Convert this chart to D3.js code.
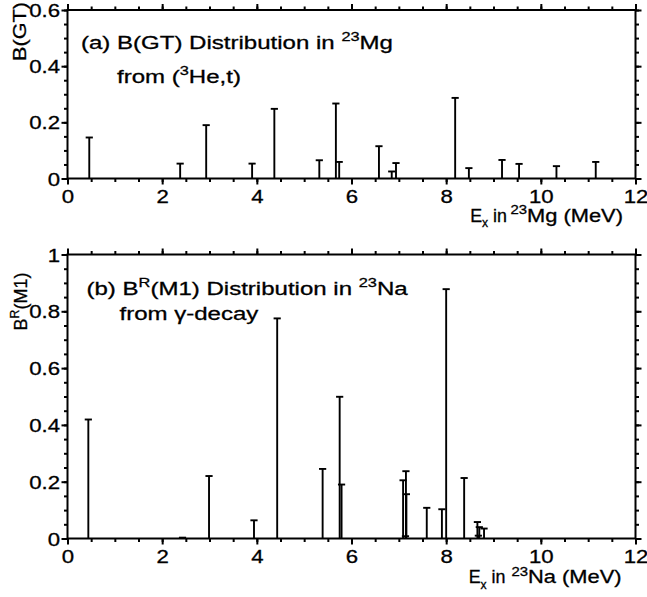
<!DOCTYPE html>
<html>
<head>
<meta charset="utf-8">
<script src="https://cdn.jsdelivr.net/npm/d3@7"></script>
<style>
  body { margin: 0; background: #fff; }
  text { font-family: "Liberation Sans", Arial, Helvetica, sans-serif; fill: #000; stroke: #000; stroke-width: 0.3px; }
</style>
</head>
<body>
<svg id="chart" width="647" height="597"></svg>
<script>
// (a) Gamow-Teller strengths in 23Mg from (3He,t): excitation energy (MeV) and B(GT)
const mgEnergy = [0.46, 2.38, 2.93, 3.90, 4.37, 5.32, 5.67, 5.74, 6.58, 6.85, 6.94, 8.19, 8.48, 9.18, 9.54, 10.33, 11.16];
const mgBGT    = [0.146, 0.053, 0.190, 0.053, 0.248, 0.065, 0.267, 0.059, 0.115, 0.025, 0.055, 0.287, 0.037, 0.066, 0.052, 0.044, 0.059];

// (b) Reduced M1 strengths in 23Na from gamma decay: excitation energy (MeV) and B^R(M1)
const naEnergy = [0.44, 2.43, 2.99, 3.94, 4.43, 5.39, 5.75, 5.79, 7.09, 7.14, 7.15, 7.16, 7.59, 7.91, 8.00, 8.38, 8.66, 8.68, 8.70, 8.80];
const naBM1    = [0.419, 0.003, 0.220, 0.064, 0.775, 0.245, 0.499, 0.190, 0.205, 0.008, 0.237, 0.156, 0.108, 0.103, 0.878, 0.213, 0.058, 0.010, 0.040, 0.035];

// Axis ticks
const xMajor = [0, 2, 4, 6, 8, 10, 12];
const xMinor = d3.range(0, 12.001, 0.5);
const gtMajor = [0, 0.2, 0.4, 0.6];
const gtLabels = ["0", "0.2", "0.4", "0.6"];
const m1Major = [0, 0.2, 0.4, 0.6, 0.8, 1];
const m1Labels = ["0", "0.2", "0.4", "0.6", "0.8", "1"];
const yMinorStep = 0.05;

const svg = d3.select("#chart");
const FONT = "\"Liberation Sans\", Arial, Helvetica, sans-serif";
const tickSize = 18.5;   // tick label font size
const tickSX = 1.2;      // glyph widening for tick labels
const LEFT = 67.5, RIGHT = 635.5;

const x = d3.scaleLinear().domain([0, 12]).range([LEFT, RIGHT]);

// Text with optional super/subscript runs; parts = [[text, kind], ...]
function richText(parent, px, py, parts, size, sx, anchor, rotate) {
  const tr = `translate(${px},${py})` + (rotate ? ` rotate(${rotate})` : "") + ` scale(${sx},1)`;
  const t = parent.append("text")
    .attr("transform", tr)
    .attr("font-size", size)
    .attr("text-anchor", anchor || "start");
  let shift = 0;
  parts.forEach(p => {
    const kind = p[1] || "n";
    const target = kind === "sup" ? -0.42 * size : kind === "sub" ? 0.32 * size : 0;
    t.append("tspan")
      .attr("dy", target - shift)
      .attr("font-size", kind === "n" ? size : size * 0.68)
      .text(p[0]);
    shift = target;
  });
  return t;
}

// Energy axis title, set in two runs so the unit part can be widened
function energyTitle(parent, baseline, endX, nucleus) {
  richText(parent, endX - 116, baseline, [["E"], ["x", "sub"], [" in"]], 17.5, 1.02, "end");
  richText(parent, endX, baseline, [["23", "sup"], [nucleus + " (MeV)"]], 17.5, 1.25, "end");
}

function panel(opts) {
  const { top, bottom, yMax, majors, labels, energies, values } = opts;
  const y = d3.scaleLinear().domain([0, yMax]).range([bottom, top]);
  const g = svg.append("g");
  const yMinor = d3.range(0, yMax + 1e-9, yMinorStep);

  const styleAxis = sel => {
    sel.select(".domain").remove();
    sel.selectAll(".tick line").attr("stroke", "#000").attr("stroke-width", 2);
  };

  // minor ticks on all four sides
  g.append("g").attr("transform", `translate(0,${bottom})`)
    .call(d3.axisBottom(x).tickValues(xMinor).tickSize(3.5).tickFormat(""))
    .call(styleAxis);
  g.append("g").attr("transform", `translate(0,${top})`)
    .call(d3.axisTop(x).tickValues(xMinor).tickSize(3.5).tickFormat(""))
    .call(styleAxis);
  g.append("g").attr("transform", `translate(${LEFT},0)`)
    .call(d3.axisLeft(y).tickValues(yMinor).tickSize(3.5).tickFormat(""))
    .call(styleAxis);
  g.append("g").attr("transform", `translate(${RIGHT},0)`)
    .call(d3.axisRight(y).tickValues(yMinor).tickSize(3.5).tickFormat(""))
    .call(styleAxis);

  // major ticks with labels
  const xb = g.append("g").attr("transform", `translate(0,${bottom})`)
    .call(d3.axisBottom(x).tickValues(xMajor).tickSize(6).tickPadding(5).tickFormat(d3.format("d")))
    .call(styleAxis);
  xb.selectAll("text")
    .attr("font-family", FONT).attr("font-size", tickSize).attr("fill", "#000")
    .attr("transform", `scale(${tickSX},1)`);
  g.append("g").attr("transform", `translate(0,${top})`)
    .call(d3.axisTop(x).tickValues(xMajor).tickSize(6).tickFormat(""))
    .call(styleAxis);
  const yl = g.append("g").attr("transform", `translate(${LEFT},0)`)
    .call(d3.axisLeft(y).tickValues(majors).tickSize(6).tickPadding(1.5).tickFormat((d, i) => labels[i]))
    .call(styleAxis);
  yl.selectAll("text")
    .attr("font-family", FONT).attr("font-size", tickSize).attr("fill", "#000")
    .attr("x", -7.5 / tickSX)
    .attr("dy", "0.36em")
    .attr("transform", `scale(${tickSX},1)`);
  g.append("g").attr("transform", `translate(${RIGHT},0)`)
    .call(d3.axisRight(y).tickValues(majors).tickSize(6).tickFormat(""))
    .call(styleAxis);

  // frame
  g.append("rect")
    .attr("x", LEFT).attr("y", top)
    .attr("width", RIGHT - LEFT).attr("height", bottom - top)
    .attr("fill", "none").attr("stroke", "#000").attr("stroke-width", 2);

  // strength stems with caps
  const pts = energies.map((e, i) => ({ e, v: values[i] }));
  const marks = g.append("g").selectAll("g.stem").data(pts).join("g").attr("class", "stem");
  marks.append("line")
    .attr("x1", d => x(d.e)).attr("x2", d => x(d.e))
    .attr("y1", y(0)).attr("y2", d => y(d.v))
    .attr("stroke", "#000").attr("stroke-width", 1.9);
  marks.append("line")
    .attr("x1", d => x(d.e) - 3.6).attr("x2", d => x(d.e) + 3.6)
    .attr("y1", d => y(d.v)).attr("y2", d => y(d.v))
    .attr("stroke", "#000").attr("stroke-width", 1.9);
  return g;
}

const gA = panel({ top: 10, bottom: 178.5, yMax: 0.6, majors: gtMajor, labels: gtLabels,
                   energies: mgEnergy, values: mgBGT });
const gB = panel({ top: 254.5, bottom: 538.5, yMax: 1, majors: m1Major, labels: m1Labels,
                   energies: naEnergy, values: naBM1 });

// panel (a) annotation
richText(gA, 81, 48.5, [["(a) B(GT) Distribution in "], ["23", "sup"], ["Mg"]], 18.5, 1.3);
richText(gA, 117, 83, [["from ("], ["3", "sup"], ["He,t)"]], 18.5, 1.3);
// panel (a) axis titles
energyTitle(gA, 221.5, 623, "Mg");
richText(gA, 26, 31.5, [["B(GT)"]], 18, 1.2, "middle", -90);

// panel (b) annotation
richText(gB, 86.5, 295, [["(b) B"], ["R", "sup"], ["(M1) Distribution in "], ["23", "sup"], ["Na"]], 18.5, 1.3);
richText(gB, 119.5, 320, [["from \u03b3-decay"]], 18.5, 1.3);
// panel (b) axis titles
energyTitle(gB, 583, 621.5, "Na");
richText(gB, 26.5, 301.5, [["B"], ["R", "sup"], ["(M1)"]], 18, 1.0, "middle", -90);
</script>
</body>
</html>
